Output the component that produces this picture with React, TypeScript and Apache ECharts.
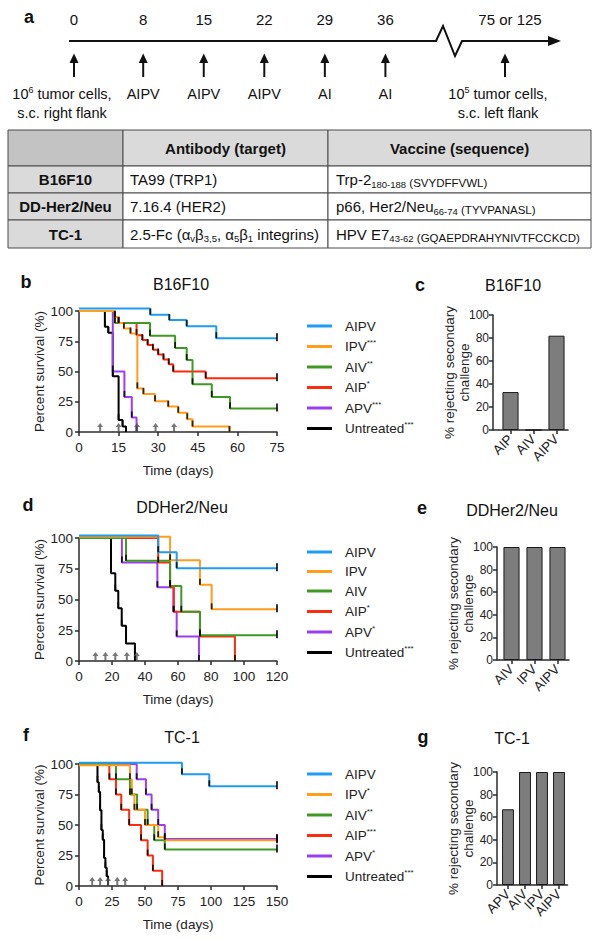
import { useEffect, useRef } from 'react';
import * as echarts from 'echarts';

const FONT = '"Liberation Sans", Arial, Helvetica, sans-serif';

// ---------- panel a: treatment timeline ----------
const timelineDays = [0, 8, 15, 22, 29, 36];
const timelineTreatments = ['', 'AIPV', 'AIPV', 'AIPV', 'AI', 'AI'];
const challengeDayLabel = '75 or 125';
const implantLabel = ['{t|10}{sup|6}{t| tumor cells,}', '{t|s.c. right flank}'];
const challengeLabel = ['{t|10}{sup|5}{t| tumor cells,}', '{t|s.c. left flank}'];

// ---------- table ----------
const tableHeaders = ['Antibody (target)', 'Vaccine (sequence)'];
const tumorModels = ['B16F10', 'DD-Her2/Neu', 'TC-1'];
const antibodies = [
  '{t|TA99 (TRP1)}',
  '{t|7.16.4 (HER2)}',
  '{t|2.5-Fc (α}{sub|v}{t|β}{sub|3,5}{t|, α}{sub|5}{t|β}{sub|1}{t| integrins)}',
];
const vaccines = [
  '{t|Trp-2}{sub|180-188}{sm| (SVYDFFVWL)}',
  '{t|p66, Her2/Neu}{sub|66-74}{sm| (TYVPANASL)}',
  '{t|HPV E7}{sub|43-62}{sm| (GQAEPDRAHYNIVTFCCKCD)}',
];

// ---------- treatment groups ----------
const groupNames = ['AIPV', 'IPV', 'AIV', 'AIP', 'APV', 'Untreated'];
const groupColors = ['#1f9cf0', '#ff9d1c', '#3f9a25', '#ff2b0f', '#9b3ef2', '#000000'];

// ---------- b: B16F10 survival (day, % survival) ----------
const b16Sig = ['', '***', '**', '*', '***', '***'];
const b16AIPV = [[0, 102], [27, 97], [34.2, 92.5], [40.8, 87.5], [52, 77.5], [75, 77.5]];
const b16IPV = [[0, 100], [13.5, 95], [15, 90], [17, 85.5], [19.5, 81.5], [22.1, 36], [24.4, 31.5], [28.8, 25.5], [33.8, 21], [37.6, 16], [41, 10.5], [43, 4.5], [57, 0]];
const b16AIV = [[0, 100], [13.6, 90], [26.9, 79.5], [36.4, 69.5], [40.8, 59.5], [43, 39.5], [50.3, 29], [57.2, 19.5], [75, 19.5]];
const b16AIP = [[0, 100], [13.6, 95], [15, 90], [21.8, 80], [24, 76], [26, 72], [28, 68], [30, 64], [32, 60], [34, 56], [35.7, 50], [48, 44.5], [75, 44.5]];
const b16APV = [[0, 100], [12.8, 50], [17.2, 29], [20, 12], [21.8, 0]];
const b16Untreated = [[0, 100], [9.8, 87], [11.1, 82], [12.8, 46], [15, 10], [16.5, 4.5], [17.8, 0]];
const b16Arrows = [8, 15, 22, 29, 36];

// ---------- d: DDHer2/Neu survival ----------
const herSig = ['', '', '', '*', '*', '***'];
const herAIPV = [[0, 102], [48, 88.5], [59.2, 75.5], [120, 75.5]];
const herIPV = [[0, 101], [55.2, 82], [73.3, 62], [80.4, 42], [120, 42]];
const herAIV = [[0, 100], [28.5, 81.5], [55.2, 61], [62, 40], [73.3, 21], [120, 21]];
const herAIP = [[0, 100], [48, 80], [55.2, 60], [57.5, 40], [73.3, 20], [94.5, 0]];
const herAPV = [[0, 100], [26, 80], [47.5, 60], [57.2, 40], [59.2, 20], [72.7, 0]];
const herUntreated = [[0, 100], [19.4, 71.4], [22, 57.1], [23.8, 42.9], [25.9, 28.6], [28.5, 14.3], [33.9, 0]];
const herArrows = [10, 16, 22, 29, 35];

// ---------- f: TC-1 survival ----------
const tc1Sig = ['', '*', '**', '***', '*', '***'];
const tc1AIPV = [[0, 101], [78, 91.7], [98.7, 81.7], [150, 81.7]];
const tc1IPV = [[0, 99], [38.6, 87.5], [40, 75], [42, 62.5], [50, 50], [60, 40], [65, 37.5], [150, 37.5]];
const tc1AIV = [[0, 100], [28, 87.5], [38.6, 75], [44, 62.5], [52, 50], [57, 37.5], [65, 30], [150, 30]];
const tc1AIP = [[0, 100], [23, 87.5], [28, 75], [32, 62.5], [38, 50], [47, 37.5], [52, 25], [56, 12.5], [63, 0]];
const tc1APV = [[0, 100], [43.7, 87.5], [50.7, 75], [55, 62.5], [60, 50], [65, 38.5], [150, 38.5]];
const tc1Untreated = [[0, 100], [14, 85], [15, 77], [16, 62], [17, 46], [18, 38], [19, 23], [20, 15], [21, 8], [22, 0]];
const tc1Arrows = [10, 16, 22, 29, 35];

// ---------- c, e, g: % rejecting secondary challenge ----------
const b16RejectGroups = ['AIP', 'AIV', 'AIPV'];
const b16Reject = [33, 0, 82];
const herRejectGroups = ['AIV', 'IPV', 'AIPV'];
const herReject = [100, 100, 100];
const tc1RejectGroups = ['APV', 'AIV', 'IPV', 'AIPV'];
const tc1Reject = [67, 100, 100, 100];

const panelTitles = ['B16F10', 'DDHer2/Neu', 'TC-1'];

function censorMarks(curve: number[][]) {
  const out: any[] = [];
  for (let i = 1; i < curve.length; i++) {
    const [x, y] = curve[i];
    const prev = curve[i - 1][1];
    if (y < prev) out.push({ value: [x, y], symbolSize: [1.8, 6], symbolOffset: [0, -3] });
    else if (i === curve.length - 1) out.push({ value: [x, y], symbolSize: [2, 8], symbolOffset: [0, -1] });
  }
  return out;
}

function buildOption() {
  const axisLine = { show: true, lineStyle: { color: '#2b2b2b', width: 1.5 } };
  const axisTick = { show: true, length: 4, lineStyle: { color: '#2b2b2b', width: 1.5 } };
  const labelStyle = { fontFamily: FONT, fontSize: 13.5, color: '#222' };

  const surv = [
    { curves: [b16AIPV, b16IPV, b16AIV, b16AIP, b16APV, b16Untreated], sigs: b16Sig, arrows: b16Arrows, xMax: 75, xStep: 15, grid: { left: 79, top: 311, width: 198, height: 121 }, legendTop: 314 },
    { curves: [herAIPV, herIPV, herAIV, herAIP, herAPV, herUntreated], sigs: herSig, arrows: herArrows, xMax: 120, xStep: 20, grid: { left: 79, top: 538, width: 198, height: 123 }, legendTop: 540 },
    { curves: [tc1AIPV, tc1IPV, tc1AIV, tc1AIP, tc1APV, tc1Untreated], sigs: tc1Sig, arrows: tc1Arrows, xMax: 150, xStep: 25, grid: { left: 79, top: 764, width: 198, height: 122 }, legendTop: 762 },
  ];
  const bars = [
    { cats: b16RejectGroups, vals: b16Reject, grid: { left: 499, top: 315, width: 69, height: 115 }, yOffset: 6 },
    { cats: herRejectGroups, vals: herReject, grid: { left: 500, top: 547, width: 69, height: 113 }, yOffset: 3 },
    { cats: tc1RejectGroups, vals: tc1Reject, grid: { left: 499.5, top: 772, width: 68, height: 113 }, yOffset: 2.5 },
  ];

  const grid: any[] = [];
  const xAxis: any[] = [];
  const yAxis: any[] = [];
  const series: any[] = [];
  const legend: any[] = [];
  const graphic: any[] = [];

  surv.forEach((p, i) => {
    grid.push({ ...p.grid });
    xAxis.push({
      gridIndex: i, type: 'value', min: 0, max: p.xMax, interval: p.xStep,
      axisLine, axisTick, splitLine: { show: false },
      axisLabel: { ...labelStyle, margin: 8 },
      name: 'Time (days)', nameLocation: 'middle', nameGap: 31, nameMoveOverlap: false,
      nameTextStyle: { ...labelStyle },
    });
    yAxis.push({
      gridIndex: i, type: 'value', min: 0, max: 100, interval: 25,
      axisLine, axisTick, splitLine: { show: false },
      axisLabel: { ...labelStyle, margin: 6 },
      name: 'Percent survival (%)', nameLocation: 'middle', nameGap: 33, nameRotate: 90, nameMoveOverlap: false,
      nameTextStyle: { ...labelStyle },
    });
    const names: string[] = [];
    for (let g = p.curves.length - 1; g >= 0; g--) {
      const name = groupNames[g] + p.sigs[g];
      series.push({
        type: 'line', name, xAxisIndex: i, yAxisIndex: i, data: p.curves[g], step: 'end',
        showSymbol: false, symbol: 'none', clip: false, silent: true,
        lineStyle: { width: 2, color: groupColors[g] }, itemStyle: { color: groupColors[g] }, z: 2,
      });
      series.push({
        type: 'scatter', name: `marks-${i}-${g}`, xAxisIndex: i, yAxisIndex: i,
        data: censorMarks(p.curves[g]), symbol: 'rect', itemStyle: { color: '#000' },
        silent: true, clip: false, z: 4,
      });
    }
    for (let g = 0; g < groupNames.length; g++) names.push(groupNames[g] + p.sigs[g]);
    series.push({
      type: 'scatter', name: `arrows-${i}`, xAxisIndex: i, yAxisIndex: i,
      data: p.arrows.map((d) => [d, 0]),
      symbol: 'path://M3,0 L6,4 L4,4 L4,9 L2,9 L2,4 L0,4 Z', symbolSize: [6, 9], symbolOffset: [0, -4.5],
      itemStyle: { color: '#555' }, silent: true, clip: false, z: 6,
    });
    legend.push({
      left: 302, top: p.legendTop, orient: 'vertical', icon: 'rect', itemWidth: 25, itemHeight: 3,
      itemGap: 5.5, selectedMode: false, data: names,
      formatter: (name: string) => {
        const m = name.match(/^([^*]*)(\**)$/);
        const base = m ? m[1] : name;
        const star = m ? m[2] : '';
        return `{n|${base}}` + (star ? `{s|${star}}` : '');
      },
      textStyle: {
        fontFamily: FONT, fontSize: 13.5, color: '#222',
        rich: {
          n: { fontFamily: FONT, fontSize: 13.5, color: '#222', lineHeight: 16, padding: [0, 0, 0, 8], verticalAlign: 'middle' },
          s: { fontFamily: FONT, fontSize: 8, color: '#222', lineHeight: 8, verticalAlign: 'top' },
        },
      },
    });
  });

  bars.forEach((p, j) => {
    const k = surv.length + j;
    grid.push({ ...p.grid });
    xAxis.push({
      gridIndex: k, type: 'category', data: p.cats,
      axisLine, axisTick: { ...axisTick, alignWithLabel: true },
      axisLabel: { fontFamily: FONT, fontSize: 13.5, color: '#222', rotate: 45, margin: 7, interval: 0 },
    });
    yAxis.push({
      gridIndex: k, type: 'value', min: 0, max: 100, interval: 20, offset: p.yOffset,
      axisLine, axisTick, splitLine: { show: false },
      axisLabel: { fontFamily: FONT, fontSize: 12, color: '#222', margin: 4 },
      name: '% rejecting secondary\nchallenge', nameLocation: 'middle', nameGap: 21, nameRotate: 90,
      nameMoveOverlap: false,
      nameTextStyle: { fontFamily: FONT, fontSize: 13.5, color: '#222', lineHeight: 15 },
    });
    series.push({
      type: 'bar', name: `reject-${j}`, xAxisIndex: k, yAxisIndex: k, data: p.vals, barWidth: '70%',
      itemStyle: { color: '#7d7d7d', borderColor: '#1a1a1a', borderWidth: 1 }, silent: true,
    });
    const yb = p.grid.top + p.grid.height;
    graphic.push({
      type: 'line', shape: { x1: p.grid.left - p.yOffset, y1: yb, x2: p.grid.left, y2: yb },
      style: { stroke: '#2b2b2b', lineWidth: 1.5 },
    });
  });

  // ----- panel letters and titles -----
  const letter = (t: string, x: number, y: number) => ({
    type: 'text', x, y,
    style: { text: t, fontFamily: FONT, fontSize: 18, fontWeight: 'bold', fill: '#111', align: 'center', verticalAlign: 'middle' },
  });
  const title = (t: string, x: number, y: number) => ({
    type: 'text', x, y,
    style: { text: t, fontFamily: FONT, fontSize: 16, fill: '#111', align: 'center', verticalAlign: 'middle' },
  });
  graphic.push(letter('a', 29, 17));
  graphic.push(letter('b', 26, 282), title(panelTitles[0], 181, 284));
  graphic.push(letter('c', 420, 285), title(panelTitles[0], 513, 285));
  graphic.push(letter('d', 28, 505), title(panelTitles[1], 182, 507));
  graphic.push(letter('e', 422, 508), title(panelTitles[1], 512, 510));
  graphic.push(letter('f', 26, 735), title(panelTitles[2], 182, 737));
  graphic.push(letter('g', 423, 737), title(panelTitles[2], 512, 738));

  // ----- panel a: timeline -----
  const tx = (d: number) => 74 + d * 8.65;
  const tl = 41;
  const richTL = {
    t: { fontFamily: FONT, fontSize: 14.5, fill: '#111', lineHeight: 17, verticalAlign: 'middle' },
    sup: { fontFamily: FONT, fontSize: 9, fill: '#111', lineHeight: 9, verticalAlign: 'top' },
  };
  graphic.push({
    type: 'polyline',
    shape: { points: [[69, tl], [436, tl], [443, 26], [455, 56], [462, tl], [550, tl]] },
    style: { stroke: '#111', lineWidth: 2, fill: null },
  });
  graphic.push({ type: 'polygon', shape: { points: [[561, tl], [548, tl - 5], [548, tl + 5]] }, style: { fill: '#111' } });
  const upArrow = (x: number) => [
    { type: 'line', shape: { x1: x, y1: 77, x2: x, y2: 61 }, style: { stroke: '#111', lineWidth: 2 } },
    { type: 'polygon', shape: { points: [[x, 53.5], [x - 4.5, 63], [x + 4.5, 63]] }, style: { fill: '#111' } },
  ];
  timelineDays.forEach((d, i) => {
    graphic.push({
      type: 'text', x: tx(d), y: 19,
      style: { text: String(d), fontFamily: FONT, fontSize: 15, fill: '#111', align: 'center', verticalAlign: 'middle' },
    });
    graphic.push(...upArrow(tx(d)));
    if (timelineTreatments[i]) {
      graphic.push({
        type: 'text', x: tx(d), y: 94,
        style: { text: timelineTreatments[i], fontFamily: FONT, fontSize: 14.5, fill: '#111', align: 'center', verticalAlign: 'middle' },
      });
    }
  });
  graphic.push({
    type: 'text', x: 510, y: 19,
    style: { text: challengeDayLabel, fontFamily: FONT, fontSize: 15, fill: '#111', align: 'center', verticalAlign: 'middle' },
  });
  graphic.push(...upArrow(505));
  implantLabel.forEach((s, i) => graphic.push({
    type: 'text', x: 62, y: 94 + i * 19,
    style: { text: s, rich: richTL, fontFamily: FONT, fontSize: 14.5, fill: '#111', align: 'center', verticalAlign: 'middle' },
  }));
  challengeLabel.forEach((s, i) => graphic.push({
    type: 'text', x: 498, y: 94 + i * 19,
    style: { text: s, rich: richTL, fontFamily: FONT, fontSize: 14.5, fill: '#111', align: 'center', verticalAlign: 'middle' },
  }));

  // ----- table -----
  const cols = [8, 123, 328, 591];
  const rows = [130, 166, 193, 220, 248];
  const richTab = {
    t: { fontFamily: FONT, fontSize: 15, fill: '#111', lineHeight: 19, verticalAlign: 'middle' },
    sub: { fontFamily: FONT, fontSize: 9.5, fill: '#111', lineHeight: 11, verticalAlign: 'bottom' },
    sm: { fontFamily: FONT, fontSize: 11.5, fill: '#111', lineHeight: 15, verticalAlign: 'bottom' },
  };
  for (let r = 0; r < 4; r++) {
    for (let c = 0; c < 3; c++) {
      let fill = '#ffffff';
      if (r === 0 && c === 0) fill = '#c3c3c3';
      else if (r === 0 || c === 0) fill = '#dadada';
      graphic.push({
        type: 'rect',
        shape: { x: cols[c], y: rows[r], width: cols[c + 1] - cols[c], height: rows[r + 1] - rows[r] },
        style: { fill, stroke: '#4a4a4a', lineWidth: 1 },
      });
    }
  }
  tableHeaders.forEach((h, i) => graphic.push({
    type: 'text', x: (cols[i + 1] + cols[i + 2]) / 2, y: (rows[0] + rows[1]) / 2,
    style: { text: h, fontFamily: FONT, fontSize: 15, fontWeight: 'bold', fill: '#111', align: 'center', verticalAlign: 'middle' },
  }));
  tumorModels.forEach((m, i) => {
    const cy = (rows[i + 1] + rows[i + 2]) / 2;
    graphic.push({
      type: 'text', x: (cols[0] + cols[1]) / 2, y: cy,
      style: { text: m, fontFamily: FONT, fontSize: 15, fontWeight: 'bold', fill: '#111', align: 'center', verticalAlign: 'middle' },
    });
    graphic.push({
      type: 'text', x: cols[1] + 7, y: cy,
      style: { text: antibodies[i], rich: richTab, fontFamily: FONT, fontSize: 15, fill: '#111', align: 'left', verticalAlign: 'middle' },
    });
    graphic.push({
      type: 'text', x: cols[2] + 8, y: cy,
      style: { text: vaccines[i], rich: richTab, fontFamily: FONT, fontSize: 15, fill: '#111', align: 'left', verticalAlign: 'middle' },
    });
  });

  return {
    animation: false,
    backgroundColor: '#ffffff',
    textStyle: { fontFamily: FONT },
    grid, xAxis, yAxis, series, legend, graphic,
  };
}

export default function App() {
  const ref = useRef<HTMLDivElement>(null);
  useEffect(() => {
    document.body.style.margin = '0';
    const chart = echarts.init(ref.current!, null, { renderer: 'svg' });
    chart.setOption(buildOption() as any);
    return () => chart.dispose();
  }, []);
  return (
    <div
      ref={ref}
      style={{ width: 601, height: 940, position: 'absolute', left: 0, top: 0, background: '#fff' }}
    />
  );
}
